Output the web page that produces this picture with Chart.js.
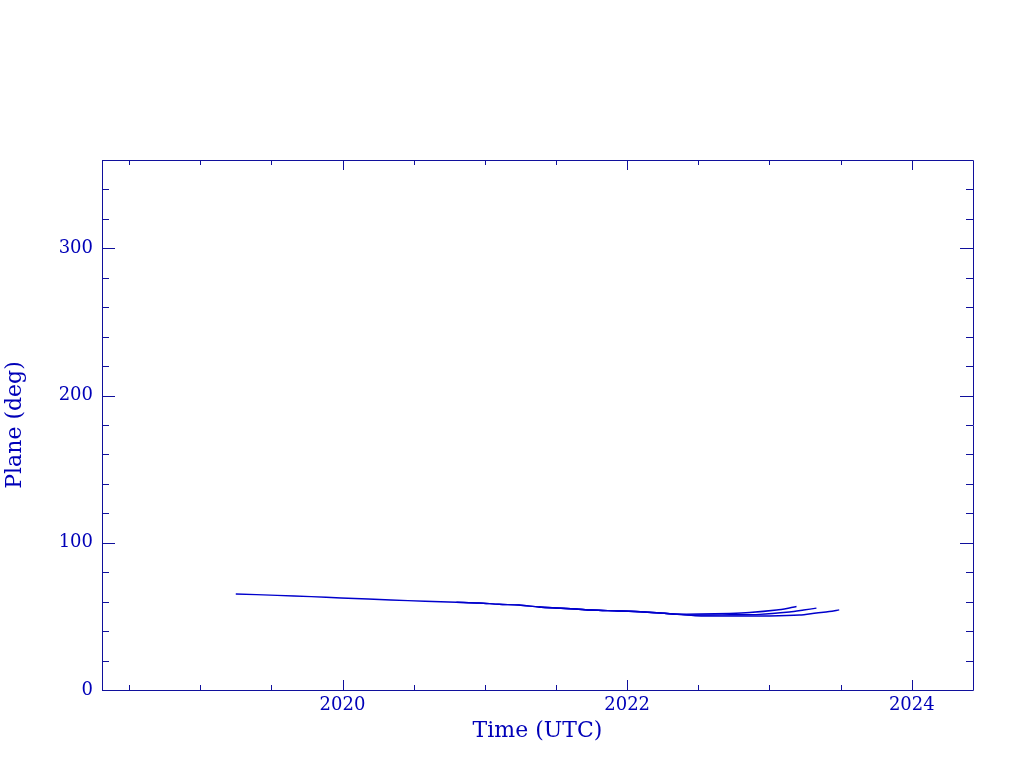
<!DOCTYPE html>
<html>
<head>
<meta charset="utf-8">
<script src="https://cdn.jsdelivr.net/npm/chart.js@4/dist/chart.umd.min.js"></script>
<style>
  html, body { margin: 0; padding: 0; background: #fff; }
  #wrap { width: 1024px; height: 768px; }
</style>
</head>
<body>
<div id="wrap"><canvas id="myChart" width="1024" height="768"></canvas></div>
<script>
// values (time in decimal years, plane angle in degrees)
var timeA  = [2019.25, 2019.54, 2019.78, 2019.99, 2020.18, 2020.34, 2020.58, 2020.80, 2020.96, 2021.10, 2021.24, 2021.38, 2021.50, 2021.64, 2021.75, 2021.94, 2022.12, 2022.26, 2022.35, 2022.51, 2022.72, 2022.86, 2023.05, 2023.14, 2023.19];
var planeA = [65.2, 64.3, 63.4, 62.5, 61.8, 61.1, 60.3, 59.6, 59.1, 58.2, 57.7, 56.4, 55.7, 55.0, 54.3, 53.7, 53.0, 52.1, 51.6, 51.6, 52.0, 52.6, 54.3, 55.7, 56.7];

var timeB  = [2020.80, 2020.96, 2021.10, 2021.24, 2021.38, 2021.50, 2021.64, 2021.75, 2021.94, 2022.12, 2022.26, 2022.35, 2022.51, 2022.72, 2022.93, 2023.14, 2023.24, 2023.33];
var planeB = [59.6, 59.1, 58.2, 57.7, 56.4, 55.7, 55.0, 54.3, 53.7, 53.0, 52.1, 51.4, 50.9, 51.1, 51.4, 53.0, 54.3, 55.6];

var timeC  = [2021.38, 2021.50, 2021.64, 2021.75, 2021.94, 2022.12, 2022.26, 2022.38, 2022.52, 2022.72, 2023.00, 2023.21, 2023.33, 2023.42, 2023.49];
var planeC = [56.4, 55.7, 55.0, 54.3, 53.7, 53.0, 52.1, 51.2, 50.3, 50.3, 50.3, 50.9, 52.3, 53.3, 54.4];

var xMajor = [2020, 2022, 2024];
var yMajor = [0, 100, 200, 300];
var xMinorStep = 0.5;
var yMinorStep = 20;

var frameColor = '#10109c';
var textColor = '#0000b8';
var lineColor = '#0000cc';

function pts(t, v) {
  var out = [];
  for (var i = 0; i < t.length; i++) out.push({x: t[i], y: v[i]});
  return out;
}

// pgplot-like box: frame plus inward ticks on all four sides
var boxPlugin = {
  id: 'box',
  afterDraw: function(chart) {
    var ctx = chart.ctx, a = chart.chartArea;
    var xs = chart.scales.x, ys = chart.scales.y;
    ctx.save();
    ctx.strokeStyle = frameColor;
    ctx.lineWidth = 1;
    ctx.beginPath();
    ctx.rect(a.left + 0.5, a.top + 0.5, a.right - a.left, a.bottom - a.top);
    ctx.stroke();
    ctx.beginPath();
    var v, p, len;
    for (v = Math.ceil(xs.min / xMinorStep) * xMinorStep; v <= xs.max; v += xMinorStep) {
      p = Math.round(xs.getPixelForValue(v)) + 0.5;
      len = (Math.abs(v / 2 - Math.round(v / 2)) < 1e-6) ? 10 : 5;
      ctx.moveTo(p, a.bottom); ctx.lineTo(p, a.bottom - len);
      ctx.moveTo(p, a.top); ctx.lineTo(p, a.top + len);
    }
    for (v = 0; v <= ys.max; v += yMinorStep) {
      p = Math.round(ys.getPixelForValue(v)) + 0.5;
      len = (v % 100 === 0) ? 13 : 7;
      ctx.moveTo(a.left, p); ctx.lineTo(a.left + len, p);
      ctx.moveTo(a.right, p); ctx.lineTo(a.right - len, p);
    }
    ctx.stroke();
    ctx.restore();
  }
};

new Chart(document.getElementById("myChart"), {
  type: 'scatter',
  data: {
    datasets: [
      { data: pts(timeA, planeA), showLine: true, borderColor: lineColor, borderWidth: 1.4, pointRadius: 0, tension: 0.3 },
      { data: pts(timeB, planeB), showLine: true, borderColor: lineColor, borderWidth: 1.4, pointRadius: 0, tension: 0.3 },
      { data: pts(timeC, planeC), showLine: true, borderColor: lineColor, borderWidth: 1.4, pointRadius: 0, tension: 0.3 }
    ]
  },
  options: {
    responsive: false,
    animation: false,
    layout: { padding: { top: 160, right: 51, left: 0, bottom: 0 } },
    plugins: { legend: { display: false }, tooltip: { enabled: false } },
    scales: {
      x: {
        type: 'linear',
        min: 2018.31,
        max: 2024.43,
        grid: { display: false, drawTicks: false },
        border: { display: false },
        afterBuildTicks: function(s) { s.ticks = xMajor.map(function(v){ return {value: v}; }); },
        afterFit: function(s) { s.height = 78; },
        ticks: {
          color: textColor,
          padding: 5,
          maxRotation: 0,
          font: { family: 'DejaVu Serif', size: 18 },
          callback: function(v) { return String(v); }
        },
        title: {
          display: true,
          text: 'Time (UTC)',
          color: textColor,
          padding: { top: 0, bottom: 24 },
          font: { family: 'DejaVu Serif', size: 22 }
        }
      },
      y: {
        min: 0,
        max: 360,
        grid: { display: false, drawTicks: false },
        border: { display: false },
        afterBuildTicks: function(s) { s.ticks = yMajor.map(function(v){ return {value: v}; }); },
        afterFit: function(s) { s.width = 102; },
        ticks: {
          color: textColor,
          padding: 9,
          font: { family: 'DejaVu Serif', size: 18 },
          callback: function(v) { return String(v); }
        },
        title: {
          display: true,
          text: 'Plane (deg)',
          color: textColor,
          padding: { top: 2, bottom: 0 },
          font: { family: 'DejaVu Serif', size: 22 }
        }
      }
    }
  },
  plugins: [boxPlugin]
});
</script>
</body>
</html>
